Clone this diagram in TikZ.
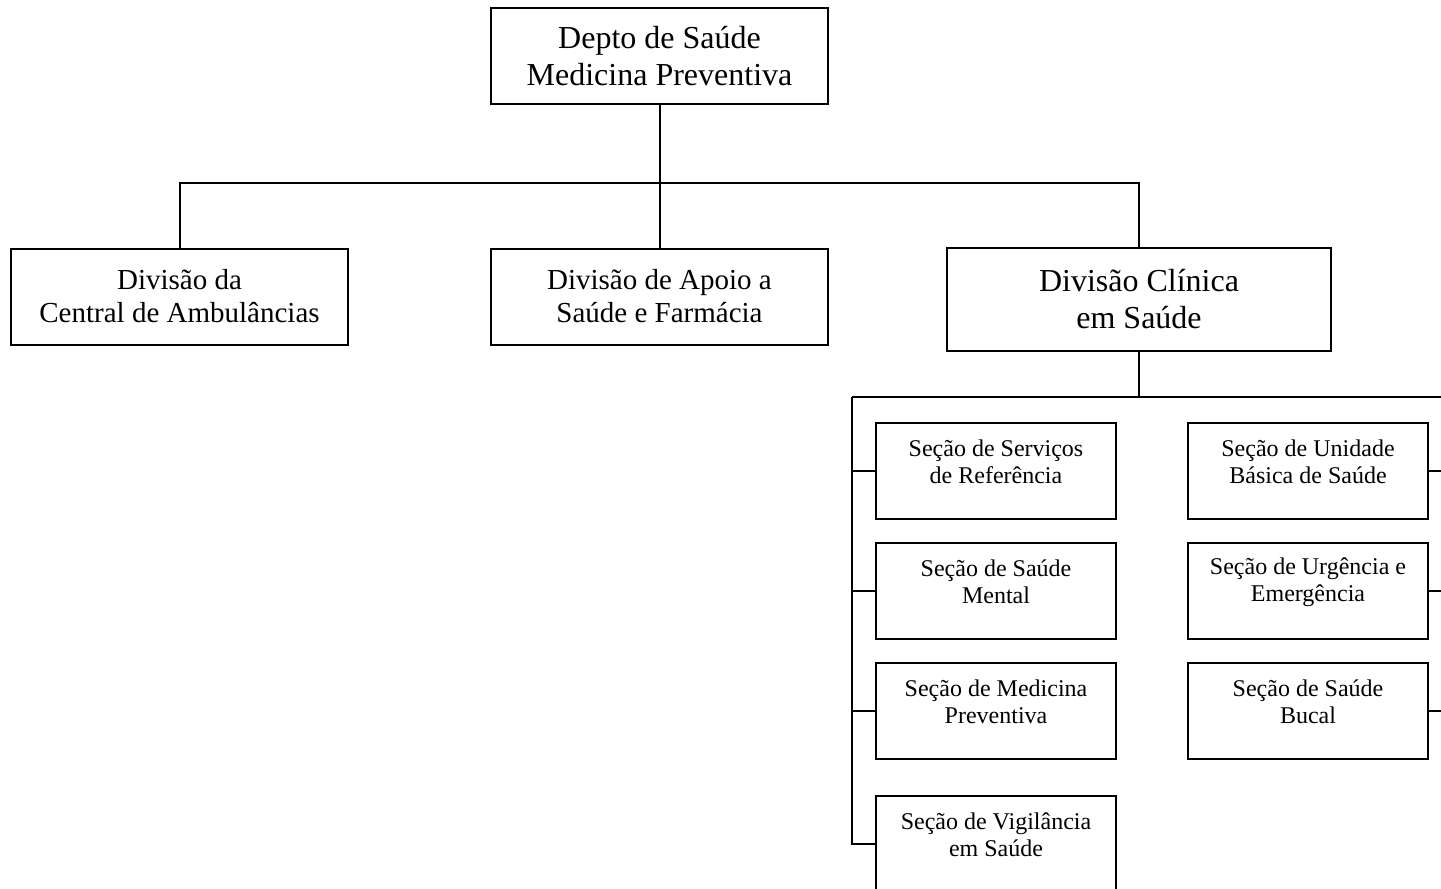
\documentclass[tikz,border=0pt]{standalone}
\usepackage{fontspec}
\setmainfont{Liberation Serif}
\begin{document}
\begin{tikzpicture}[x=1pt,y=-1pt,
  line width=2pt,
  bigbox/.style={draw, rectangle, align=center, inner sep=0pt,
    minimum width=337pt, minimum height=96pt},
  secbox/.style={draw, rectangle, inner sep=0pt,
    minimum width=240pt, minimum height=96pt},
  bigtext/.style={font=\fontsize{32}{37}\selectfont},
  midtext/.style={font=\fontsize{29}{33}\selectfont},
  sectext/.style={align=center, inner sep=0pt, font=\fontsize{24}{27}\selectfont}
]
\useasboundingbox (0,0) rectangle (1441,889);
\clip (0,0) rectangle (1441,889);

% department
\node[bigbox, bigtext] (d) at (659.5,56) {Depto de Saúde\\Medicina Preventiva};

% divisions
\node[bigbox, midtext] (a) at (179.5,296.5) {Divisão da\\Central de Ambulâncias};
\node[bigbox, midtext] (b) at (659.5,296.5) {Divisão de Apoio a\\Saúde e Farmácia};
\node[bigbox, bigtext, minimum width=384pt, minimum height=103pt] (c) at (1139,299.5) {Divisão Clínica\\em Saúde};

% sections, left column
\node[secbox] (s1) at (996,471) {};
\node[secbox] (s2) at (996,591) {};
\node[secbox] (s3) at (996,711) {};
\node[secbox] (s4) at (996,844) {};
\node[sectext] (s1t) at ([yshift=9pt]s1.center) {Seção de Serviços\\de Referência};
\node[sectext] (s2t) at ([yshift=9pt]s2.center) {Seção de Saúde\\Mental};
\node[sectext] (s3t) at ([yshift=9pt]s3.center) {Seção de Medicina\\Preventiva};
\node[sectext] (s4t) at ([yshift=9pt]s4.center) {Seção de Vigilância\\em Saúde};

% sections, right column
\node[secbox] (r1) at (1308,471) {};
\node[secbox] (r2) at (1308,591) {};
\node[secbox] (r3) at (1308,711) {};
\node[sectext] (r1t) at ([yshift=9pt]r1.center) {Seção de Unidade\\Básica de Saúde};
\node[sectext] (r2t) at ([yshift=9pt]r2.center) {Seção de Urgência e\\Emergência};
\node[sectext] (r3t) at ([yshift=9pt]r3.center) {Seção de Saúde\\Bucal};

% department to divisions
\coordinate (bus) at (659.5,183);
\draw (d.south) -- (d.south |- bus);
\draw (a.north) -- (a.north |- bus) -- (c.north |- bus) -- (c.north);
\draw (b.north) -- (b.north |- bus);

% clinical division to its sections
\coordinate (sbus) at (852,397);
\coordinate (rbus) at (1445,397);
\draw (c.south) -- (c.south |- sbus);
\draw (sbus) -- (rbus);
\draw (sbus) |- (s4.west);
\draw (s1.west) -- (s1.west -| sbus);
\draw (s2.west) -- (s2.west -| sbus);
\draw (s3.west) -- (s3.west -| sbus);
\draw (r1.east) -- (r1.east -| rbus);
\draw (r2.east) -- (r2.east -| rbus);
\draw (r3.east) -- (r3.east -| rbus);
\end{tikzpicture}
\end{document}
